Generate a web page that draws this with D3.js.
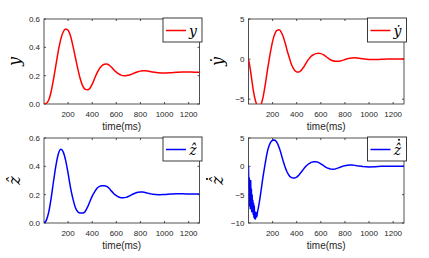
<!DOCTYPE html>
<html>
<head>
<meta charset="utf-8">
<script src="https://cdn.jsdelivr.net/npm/d3@7"></script>
<style>
  html, body { margin: 0; padding: 0; background: #fff; }
  svg { display: block; }
</style>
</head>
<body>
<svg id="chart" width="429" height="258"></svg>
<script>
// time(ms) samples and values
var tY = [0,20,40,60,80,100,120,140,160,180,200,220,240,260,280,300,320,340,360,380,400,420,440,460,480,500,520,540,560,580,600,620,640,660,680,700,720,740,760,780,800,820,840,860,880,900,950,1000,1050,1100,1150,1200,1250,1290];
var yVals = [0,0.005,0.03,0.09,0.18,0.28,0.38,0.46,0.51,0.53,0.52,0.48,0.41,0.33,0.25,0.18,0.13,0.105,0.10,0.11,0.14,0.18,0.22,0.25,0.27,0.28,0.282,0.275,0.26,0.24,0.225,0.212,0.204,0.200,0.200,0.203,0.208,0.215,0.222,0.228,0.232,0.235,0.235,0.233,0.230,0.226,0.221,0.219,0.221,0.224,0.226,0.226,0.225,0.225];

var tYd = [0,10,20,30,40,50,60,70,80,90,100,110,120,130,140,150,160,170,180,190,200,210,220,230,240,250,260,270,280,290,300,310,320,330,340,350,360,370,380,390,400,410,420,430,440,450,460,470,480,490,500,520,540,560,580,600,620,640,660,680,700,720,740,760,780,800,820,840,860,880,900,920,950,1000,1050,1100,1150,1200,1290];
var yDotVals = [0,-0.8,-1.8,-2.9,-3.9,-4.7,-5.3,-5.7,-5.9,-5.95,-5.8,-5.4,-4.8,-4.0,-3.1,-2.1,-1.1,-0.2,0.7,1.5,2.2,2.8,3.2,3.5,3.6,3.65,3.6,3.4,3.1,2.7,2.2,1.7,1.1,0.6,0.1,-0.4,-0.8,-1.1,-1.35,-1.5,-1.6,-1.62,-1.6,-1.5,-1.35,-1.15,-0.95,-0.7,-0.45,-0.2,0.0,0.35,0.55,0.68,0.72,0.68,0.55,0.35,0.12,-0.08,-0.2,-0.27,-0.28,-0.24,-0.16,-0.06,0.04,0.11,0.15,0.16,0.14,0.1,0.04,-0.04,-0.06,-0.03,0.0,0.02,0.01];

var tZ = [0,20,40,60,80,100,120,140,160,180,200,220,240,260,280,300,320,340,360,380,400,420,440,460,480,500,520,540,560,580,600,620,640,660,680,700,720,740,760,780,800,820,840,860,880,900,950,1000,1050,1100,1150,1200,1290];
var zHatVals = [0,0.02,0.08,0.18,0.30,0.41,0.49,0.52,0.50,0.44,0.35,0.25,0.17,0.11,0.08,0.07,0.07,0.08,0.11,0.15,0.19,0.22,0.245,0.258,0.263,0.263,0.258,0.245,0.225,0.207,0.193,0.184,0.179,0.178,0.181,0.187,0.196,0.205,0.212,0.217,0.219,0.218,0.215,0.211,0.207,0.203,0.200,0.201,0.204,0.206,0.206,0.205,0.204];

var tZd = [0,3,6,9,12,15,18,21,24,27,30,33,36,39,42,45,48,51,54,57,60,63,66,70,75,80,90,100,110,120,130,140,150,160,170,180,190,200,210,220,230,240,250,260,270,280,290,300,310,320,330,340,350,360,370,380,390,400,420,440,460,480,500,520,540,560,580,600,620,640,660,680,700,720,740,760,780,800,820,840,860,880,900,950,1000,1050,1100,1150,1200,1290];
var zHatDotVals = [0,-4,-2,-7,-3,-7.5,-2.5,-6,-4,-8,-5,-7.5,-6,-8.5,-6.5,-9,-7,-9.2,-8,-9.3,-8.5,-9,-8.2,-8.8,-8,-7.5,-6.3,-4.9,-3.4,-1.9,-0.6,0.7,1.9,2.9,3.6,4.1,4.45,4.6,4.65,4.6,4.4,4.05,3.55,2.95,2.25,1.5,0.75,0.1,-0.5,-1.0,-1.4,-1.7,-1.9,-2.0,-2.05,-2.05,-2.0,-1.9,-1.5,-0.95,-0.4,0.1,0.45,0.7,0.8,0.8,0.7,0.45,0.15,-0.15,-0.35,-0.48,-0.5,-0.45,-0.32,-0.15,0.0,0.12,0.2,0.23,0.22,0.17,0.1,-0.05,-0.1,-0.06,0.0,0.03,0.03,0.02];

var xTicks = [200,400,600,800,1000,1200];
var xLabel = "time(ms)";

var panels = [
  {x0: 44, y0: 19, t: tY, v: yVals, color: "#ff0000", yDomain: [0, 0.6], yTicks: [0, 0.2, 0.4, 0.6], fmt: d3.format(".1f"), label: "y", dot: false},
  {x0: 248.5, y0: 19, t: tYd, v: yDotVals, color: "#ff0000", yDomain: [-5.6, 5], yTicks: [-5, 0, 5], fmt: d3.format("d"), label: "\u1E8F", dot: false},
  {x0: 44, y0: 138, t: tZ, v: zHatVals, color: "#0000ff", yDomain: [0, 0.6], yTicks: [0, 0.2, 0.4, 0.6], fmt: d3.format(".1f"), label: "\u1E91", dot: false},
  {x0: 248.5, y0: 138, t: tZd, v: zHatDotVals, color: "#0000ff", yDomain: [-10, 5], yTicks: [-10, -5, 0, 5], fmt: d3.format("d"), label: "\u1E91", dot: true}
];

var W = 155.5, H = 85;
var axisColor = "#262626";
var svg = d3.select("#chart");

panels.forEach(function(p, i) {
  var x = d3.scaleLinear().domain([0, 1290]).range([0, W]);
  var y = d3.scaleLinear().domain(p.yDomain).range([H, 0]);
  var g = svg.append("g").attr("transform", "translate(" + p.x0 + "," + p.y0 + ")");

  svg.append("clipPath").attr("id", "clip" + i)
    .append("rect").attr("x", p.x0).attr("y", p.y0).attr("width", W).attr("height", H);

  var pts = p.t.map(function(t, k) { return [t, p.v[k]]; });
  var line = d3.line().x(function(d) { return x(d[0]); }).y(function(d) { return y(d[1]); })
    .curve(i === 3 ? d3.curveLinear : d3.curveMonotoneX);

  svg.append("g").attr("clip-path", "url(#clip" + i + ")")
    .append("path")
      .attr("transform", "translate(" + p.x0 + "," + p.y0 + ")")
      .attr("d", line(pts))
      .attr("fill", "none")
      .attr("stroke", p.color)
      .attr("stroke-width", 1.5)
      .attr("stroke-linejoin", "round");

  // box
  g.append("rect").attr("width", W).attr("height", H)
    .attr("fill", "none").attr("stroke", axisColor).attr("stroke-width", 0.8);

  // inward ticks on all sides
  xTicks.forEach(function(t) {
    g.append("line").attr("x1", x(t)).attr("x2", x(t)).attr("y1", H).attr("y2", H - 2)
      .attr("stroke", axisColor).attr("stroke-width", 0.8);
    g.append("line").attr("x1", x(t)).attr("x2", x(t)).attr("y1", 0).attr("y2", 2)
      .attr("stroke", axisColor).attr("stroke-width", 0.8);
    g.append("text").attr("x", x(t)).attr("y", H + 13)
      .attr("text-anchor", "middle").attr("font-family", "Liberation Sans, Arial, sans-serif")
      .attr("font-size", 8).attr("fill", axisColor).text(t);
  });
  p.yTicks.forEach(function(t) {
    g.append("line").attr("x1", 0).attr("x2", 2).attr("y1", y(t)).attr("y2", y(t))
      .attr("stroke", axisColor).attr("stroke-width", 0.8);
    g.append("line").attr("x1", W).attr("x2", W - 2).attr("y1", y(t)).attr("y2", y(t))
      .attr("stroke", axisColor).attr("stroke-width", 0.8);
    g.append("text").attr("x", -4).attr("y", y(t) + 3)
      .attr("text-anchor", "end").attr("font-family", "Liberation Sans, Arial, sans-serif")
      .attr("font-size", 8).attr("fill", axisColor).text(p.fmt(t));
  });

  // x label
  g.append("text").attr("x", W / 2).attr("y", H + 26)
    .attr("text-anchor", "middle").attr("font-family", "Liberation Sans, Arial, sans-serif")
    .attr("font-size", 10).attr("fill", axisColor).text(xLabel);

  // y label
  var yl = g.append("g")
    .attr("transform", "translate(" + (i % 2 === 0 ? -24 : -26) + "," + (H / 2) + ") rotate(-90)");
  yl.append("text")
    .attr("text-anchor", "middle")
    .attr("font-family", "DejaVu Serif, serif").attr("font-style", "italic")
    .attr("font-size", 16).attr("fill", "#000").text(p.label);
  if (p.dot) {
    yl.append("circle").attr("cx", 1.5).attr("cy", -15.5).attr("r", 1.1).attr("fill", "#000");
  }

  // legend
  var lg = g.append("g").attr("transform", "translate(" + (W - 36.5) + ",-1)");
  lg.append("rect").attr("width", 39).attr("height", 24)
    .attr("fill", "#fff").attr("stroke", axisColor).attr("stroke-width", 0.9);
  lg.append("line").attr("x1", 3).attr("x2", 23).attr("y1", 12.5).attr("y2", 12.5)
    .attr("stroke", p.color).attr("stroke-width", 1.5);
  lg.append("text").attr("x", 30).attr("y", 17.5).attr("text-anchor", "middle")
    .attr("font-family", "DejaVu Serif, serif").attr("font-style", "italic")
    .attr("font-size", 14).attr("fill", "#000").text(p.label);
  if (p.dot) {
    lg.append("circle").attr("cx", 31.5).attr("cy", 2.8).attr("r", 1).attr("fill", "#000");
  }
});
</script>
</body>
</html>
